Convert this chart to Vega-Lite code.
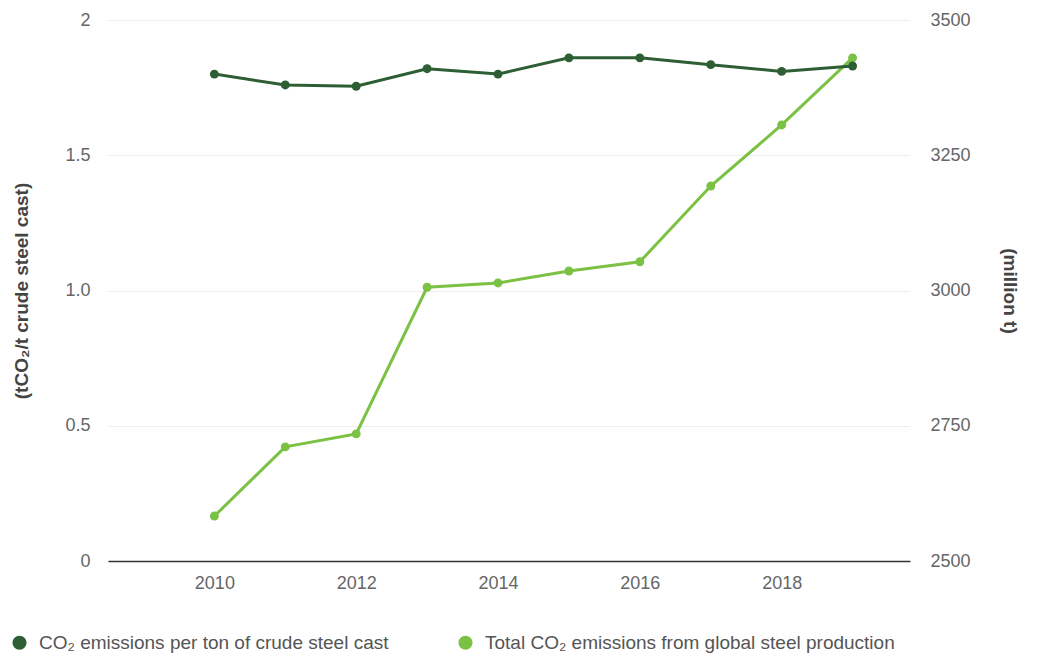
{
  "$schema": "https://vega.github.io/schema/vega-lite/v6.json",
  "autosize": {"type": "none"},
  "width": 802,
  "height": 541,
  "padding": {"left": 108, "top": 20, "right": 127, "bottom": 92},
  "background": "white",
  "config": {
    "view": {"stroke": null},
    "font": "Liberation Sans",
    "axis": {"labelFont": "Liberation Sans", "labelFontSize": 18, "labelColor": "#666666", "titleFont": "Liberation Sans", "titleFontSize": 19, "titleFontWeight": "bold", "titleColor": "#444444", "ticks": false}
  },
  "datasets": {
    "steel": [
      {"year": 2010, "series": "CO₂ emissions per ton of crude steel cast", "value": 1.80},
      {"year": 2011, "series": "CO₂ emissions per ton of crude steel cast", "value": 1.76},
      {"year": 2012, "series": "CO₂ emissions per ton of crude steel cast", "value": 1.755},
      {"year": 2013, "series": "CO₂ emissions per ton of crude steel cast", "value": 1.82},
      {"year": 2014, "series": "CO₂ emissions per ton of crude steel cast", "value": 1.80},
      {"year": 2015, "series": "CO₂ emissions per ton of crude steel cast", "value": 1.86},
      {"year": 2016, "series": "CO₂ emissions per ton of crude steel cast", "value": 1.86},
      {"year": 2017, "series": "CO₂ emissions per ton of crude steel cast", "value": 1.835},
      {"year": 2018, "series": "CO₂ emissions per ton of crude steel cast", "value": 1.81},
      {"year": 2019, "series": "CO₂ emissions per ton of crude steel cast", "value": 1.83},
      {"year": 2010, "series": "Total CO₂ emissions from global steel production", "value": 2583},
      {"year": 2011, "series": "Total CO₂ emissions from global steel production", "value": 2711},
      {"year": 2012, "series": "Total CO₂ emissions from global steel production", "value": 2735},
      {"year": 2013, "series": "Total CO₂ emissions from global steel production", "value": 3006},
      {"year": 2014, "series": "Total CO₂ emissions from global steel production", "value": 3014},
      {"year": 2015, "series": "Total CO₂ emissions from global steel production", "value": 3036},
      {"year": 2016, "series": "Total CO₂ emissions from global steel production", "value": 3053},
      {"year": 2017, "series": "Total CO₂ emissions from global steel production", "value": 3193},
      {"year": 2018, "series": "Total CO₂ emissions from global steel production", "value": 3306},
      {"year": 2019, "series": "Total CO₂ emissions from global steel production", "value": 3430}
    ]
  },
  "data": {"name": "steel"},
  "encoding": {
    "x": {
      "field": "year", "type": "quantitative",
      "scale": {"domain": [2008.5, 2019.81], "nice": false, "zero": false},
      "axis": {"values": [2010, 2012, 2014, 2016, 2018], "format": "d", "title": null, "grid": false, "domainColor": "#333333", "domainWidth": 1.5, "labelPadding": 13}
    },
    "color": {
      "field": "series", "type": "nominal",
      "scale": {"domain": ["CO₂ emissions per ton of crude steel cast", "Total CO₂ emissions from global steel production"], "range": ["#2e5e34", "#7bc143"]},
      "legend": {
        "title": null, "orient": "none", "legendX": -98, "legendY": 613, "direction": "horizontal",
        "symbolType": "circle", "symbolSize": 200, "symbolStrokeWidth": 0, "symbolOpacity": 1,
        "labelFont": "Liberation Sans", "labelFontSize": 19, "labelColor": "#555555", "labelLimit": 600,
        "columnPadding": 67, "labelOffset": 10
      }
    }
  },
  "layer": [
    {
      "transform": [{"filter": "datum.series === 'Total CO₂ emissions from global steel production'"}],
      "mark": {"type": "line", "strokeWidth": 3, "point": {"size": 80, "filled": true, "opacity": 1}},
      "encoding": {
        "y": {
          "field": "value", "type": "quantitative",
          "scale": {"domain": [2500, 3500], "nice": false, "zero": false},
          "axis": {"orient": "right", "values": [2500, 2750, 3000, 3250, 3500], "format": "d", "title": "(million t)", "grid": false, "domain": false, "labelPadding": 20, "titlePadding": 29}
        }
      }
    },
    {
      "transform": [{"filter": "datum.series === 'CO₂ emissions per ton of crude steel cast'"}],
      "mark": {"type": "line", "strokeWidth": 3, "point": {"size": 80, "filled": true, "opacity": 1}},
      "encoding": {
        "y": {
          "field": "value", "type": "quantitative",
          "scale": {"domain": [0, 2], "nice": false},
          "axis": {"orient": "left", "values": [0, 0.5, 1, 1.5, 2], "labelExpr": "datum.value === 0 ? '0' : datum.value === 2 ? '2' : format(datum.value, '.1f')", "title": "(tCO₂/t crude steel cast)", "grid": true, "gridColor": "#eeeeee", "domain": false, "labelPadding": 18, "titlePadding": 33}
        }
      }
    }
  ],
  "resolve": {"scale": {"y": "independent"}}
}
